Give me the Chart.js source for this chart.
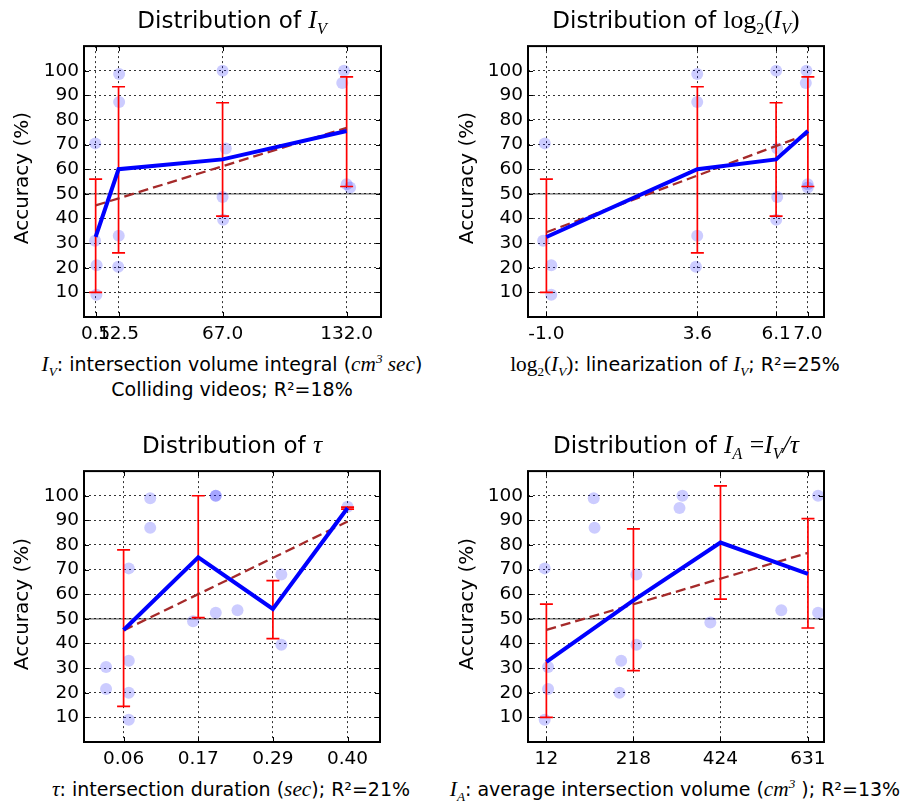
<!DOCTYPE html>
<html><head><meta charset="utf-8">
<script src="https://cdn.jsdelivr.net/npm/chart.js@4/dist/chart.umd.min.js"></script>
<style>
html,body{margin:0;padding:0;background:#fff;}
#wrap{position:relative;width:919px;height:802px;overflow:hidden;font-family:'DejaVu Sans',sans-serif;color:#000;}
canvas{position:absolute;}
.t{position:absolute;white-space:nowrap;transform:translate(-50%,-50%);line-height:1.2;}
.title{font-size:23px;}
.xl{font-size:19px;}
.yl{font-size:20px;transform:translate(-50%,-50%) rotate(-90deg);}
.m{font-family:'Liberation Serif','DejaVu Serif',serif;font-style:italic;font-size:1.12em;}
.r{font-family:'Liberation Serif','DejaVu Serif',serif;font-style:normal;font-size:1.12em;}
sub,sup{font-size:0.62em;line-height:0;}
</style></head><body><div id="wrap">
<canvas id="c1" width="395" height="320" style="left:0px;top:30px"></canvas>
<canvas id="c2" width="395" height="320" style="left:445px;top:30px"></canvas>
<canvas id="c3" width="395" height="320" style="left:0px;top:455px"></canvas>
<canvas id="c4" width="395" height="320" style="left:445px;top:455px"></canvas>

<div class="t title" style="left:232px;top:20px">Distribution of <span class="m">I<sub>V</sub></span></div>
<div class="t title" style="left:676px;top:20px">Distribution of <span class="r">log<sub>2</sub>(</span><span class="m">I<sub>V</sub></span><span class="r">)</span></div>
<div class="t title" style="left:232px;top:445px">Distribution of <span class="m">τ</span></div>
<div class="t title" style="left:676px;top:445px">Distribution of <span class="m">I<sub>A</sub></span> <span class="r">=</span><span class="m">I<sub>V</sub>/τ</span></div>

<div class="t xl" style="left:232px;top:365px"><span class="m">I<sub>V</sub></span>: intersection volume integral (<span class="m">cm<sup>3</sup> sec</span>)</div>
<div class="t xl" style="left:232px;top:389px">Colliding videos; R²=18%</div>
<div class="t xl" style="left:675px;top:365px"><span class="r">log<sub>2</sub>(</span><span class="m">I<sub>V</sub></span><span class="r">)</span>: linearization of <span class="m">I<sub>V</sub></span>; R²=25%</div>
<div class="t xl" style="left:231px;top:790px"><span class="m">τ</span>: intersection duration (<span class="m">sec</span>); R²=21%</div>
<div class="t xl" style="left:675px;top:790px"><span class="m">I<sub>A</sub></span>: average intersection volume (<span class="m">cm<sup>3</sup></span> ); R²=13%</div>

<div class="t yl" style="left:21px;top:178px">Accuracy (%)</div>
<div class="t yl" style="left:466px;top:178px">Accuracy (%)</div>
<div class="t yl" style="left:21px;top:604px">Accuracy (%)</div>
<div class="t yl" style="left:466px;top:604px">Accuracy (%)</div>
</div>
<script>
// ---------- shared ----------
const Y_TICKS = [10, 20, 30, 40, 50, 60, 70, 80, 90, 100];
const CHANCE = 50;

// ---------- Panel 1: I_V ----------
const IV_TICKS = [0.5, 12.5, 67.0, 132.0];
const IV_TICK_LABELS = ['0.5', '12.5', '67.0', '132.0'];
const IV_MEAN = [32.5, 60, 64, 75.5];
const IV_ERR_LO = [10, 26, 41, 53];
const IV_ERR_HI = [56, 93.5, 87, 97.5];
const IV_FIT_X = [0.5, 132];
const IV_FIT_Y = [45.3, 76.8];
const IV_PTS_X = [0.3, 0.2, 1.0, 0.9, 12.8, 12.8, 12.6, 12.3, 67, 68.7, 67, 67.3, 130.6, 129.7, 132, 133.8];
const IV_PTS_Y = [70.5, 31, 21, 9, 98.7, 87.3, 33, 20.4, 100, 68.4, 48.7, 39.5, 100, 95, 53.9, 52.6];

// ---------- Panel 2: log2(I_V) ----------
const LOG_TICKS = [-1.0, 3.644, 6.066, 7.044];
const LOG_TICK_LABELS = ['-1.0', '3.6', '6.1', '7.0'];
const LOG_MEAN = [32.5, 60, 64, 75.5];
const LOG_ERR_LO = [10, 26, 41, 53];
const LOG_ERR_HI = [56, 93.5, 87, 97.5];
const LOG_FIT_X = [-1.0, 7.044];
const LOG_FIT_Y = [34.4, 74.3];
const LOG_PTS_X = [-1.05, -1.1, -0.85, -0.85, 3.64, 3.64, 3.64, 3.6, 6.07, 6.1, 6.1, 6.07, 7.0, 6.98, 7.04, 7.04];
const LOG_PTS_Y = [70.5, 31, 21, 9, 98.7, 87.3, 33, 20.4, 100, 68.4, 48.7, 39.5, 100, 95, 53.9, 52.6];

// ---------- Panel 3: tau ----------
const TAU_TICKS = [0.057, 0.172, 0.287, 0.402];
const TAU_TICK_LABELS = ['0.06', '0.17', '0.29', '0.40'];
const TAU_MEAN = [45.5, 75, 54, 95];
const TAU_ERR_LO = [14.5, 50.5, 42, 94.6];
const TAU_ERR_HI = [78, 100, 65.5, 95.4];
const TAU_FIT_X = [0.057, 0.402];
const TAU_FIT_Y = [45.3, 89.5];
const TAU_PTS_X = [0.030, 0.030, 0.065, 0.065, 0.065, 0.065, 0.098, 0.098, 0.164, 0.199, 0.199, 0.199, 0.2325, 0.300, 0.300, 0.402];
const TAU_PTS_Y = [30.5, 21.5, 70.5, 33, 20, 9, 99, 87, 49, 100, 100, 52.5, 53.5, 68, 39.5, 95.5];

// ---------- Panel 4: I_A ----------
const IA_TICKS = [12, 218, 424, 631];
const IA_TICK_LABELS = ['12', '218', '424', '631'];
const IA_MEAN = [32.5, 57.5, 81, 68.3];
const IA_ERR_LO = [10, 29, 58, 46.3];
const IA_ERR_HI = [56, 86.5, 104, 90.7];
const IA_FIT_X = [12, 631];
const IA_FIT_Y = [45.5, 76.8];
const IA_PTS_X = [8, 8, 16, 16, 124, 126, 185, 189, 225, 225, 327, 334, 400, 568, 655, 655];
const IA_PTS_Y = [70.5, 9, 30.5, 21.5, 99, 87, 20, 33, 68, 39.5, 95, 100, 48.5, 53.5, 100, 52.5];

function decoPlugin(cfg) {
  return {
    id: 'deco',
    beforeDatasetsDraw(chart) {
      const {ctx, chartArea: a, scales: {y}} = chart;
      const py = y.getPixelForValue(CHANCE);
      ctx.save();
      ctx.strokeStyle = 'rgba(0,0,0,0.42)';
      ctx.lineWidth = 1.6;
      ctx.beginPath(); ctx.moveTo(a.left, py); ctx.lineTo(a.right, py); ctx.stroke();
      ctx.restore();
    },
    afterDatasetDraw(chart, args) {
      if (chart.data.datasets[args.index].label !== 'points') return;
      const {ctx, scales: {x, y}} = chart;
      ctx.save();
      ctx.strokeStyle = '#ff0000';
      ctx.lineWidth = 1.7;
      cfg.ticks.forEach((xv, i) => {
        const px = x.getPixelForValue(xv);
        const lo = y.getPixelForValue(cfg.errLo[i]);
        const hi = y.getPixelForValue(cfg.errHi[i]);
        ctx.beginPath();
        ctx.moveTo(px, lo); ctx.lineTo(px, hi);
        ctx.moveTo(px - 6.5, lo); ctx.lineTo(px + 6.5, lo);
        ctx.moveTo(px - 6.5, hi); ctx.lineTo(px + 6.5, hi);
        ctx.stroke();
      });
      ctx.restore();
    },
    afterDraw(chart) {
      const {ctx, chartArea: a, scales: {x, y}} = chart;
      ctx.save();
      ctx.strokeStyle = '#000';
      ctx.lineWidth = 1;
      ctx.beginPath();
      cfg.ticks.forEach(v => {
        const px = Math.round(x.getPixelForValue(v)) + 0.5;
        ctx.moveTo(px, a.top); ctx.lineTo(px, a.top + 5);
        ctx.moveTo(px, a.bottom); ctx.lineTo(px, a.bottom - 5);
      });
      Y_TICKS.forEach(v => {
        const py = Math.round(y.getPixelForValue(v)) + 0.5;
        ctx.moveTo(a.left, py); ctx.lineTo(a.left + 5, py);
        ctx.moveTo(a.right, py); ctx.lineTo(a.right - 5, py);
      });
      ctx.stroke();
      ctx.lineWidth = 2;
      ctx.strokeRect(a.left, a.top, a.right - a.left, a.bottom - a.top);
      ctx.restore();
    }
  };
}

function makePanel(id, cfg) {
  new Chart(document.getElementById(id), {
    data: {
      datasets: [
        {type: 'line', label: 'mean', data: cfg.ticks.map((x, i) => ({x, y: cfg.mean[i]})),
         borderColor: '#0000ff', borderWidth: 4, pointRadius: 0, tension: 0, order: 0, fill: false},
        {type: 'line', label: 'fit', data: cfg.fitX.map((x, i) => ({x, y: cfg.fitY[i]})),
         borderColor: '#a52a2a', borderWidth: 2.3, borderDash: [10, 5], pointRadius: 0, order: 1, fill: false},
        {type: 'scatter', label: 'points', data: cfg.ptsX.map((x, i) => ({x, y: cfg.ptsY[i]})),
         backgroundColor: 'rgba(0,0,255,0.2)', borderWidth: 0, pointRadius: 6, order: 3}
      ]
    },
    options: {
      responsive: false, animation: false, devicePixelRatio: 1,
      layout: {padding: {top: cfg.padTop, right: cfg.padRight, left: 0, bottom: 0}},
      plugins: {legend: {display: false}, tooltip: {enabled: false}, title: {display: false}},
      scales: {
        x: {
          type: 'linear', min: cfg.xMin, max: cfg.xMax,
          afterBuildTicks: s => { s.ticks = cfg.ticks.map(v => ({value: v})); },
          afterFit: s => { s.height = 33; },
          ticks: {autoSkip: false, maxRotation: 0, minRotation: 0, padding: 6, color: '#000',
                  font: {family: 'DejaVu Sans', size: 18.5}, callback: (v, i) => cfg.tickLabels[i]},
          grid: {drawTicks: false, color: '#333', lineWidth: 1},
          border: {display: false, dash: [2, 3]}
        },
        y: {
          type: 'linear', min: 0, max: 110,
          afterBuildTicks: s => { s.ticks = Y_TICKS.map(v => ({value: v})); },
          afterFit: s => { s.width = cfg.yWidth; },
          ticks: {padding: 5, color: '#000', font: {family: 'DejaVu Sans', size: 18.5}},
          grid: {drawTicks: false, color: '#333', lineWidth: 1},
          border: {display: false, dash: [2, 3]}
        }
      }
    },
    plugins: [decoPlugin(cfg)]
  });
}

makePanel('c1', {ticks: IV_TICKS, tickLabels: IV_TICK_LABELS, xMin: -5.6, xMax: 150,
  mean: IV_MEAN, errLo: IV_ERR_LO, errHi: IV_ERR_HI, fitX: IV_FIT_X, fitY: IV_FIT_Y,
  ptsX: IV_PTS_X, ptsY: IV_PTS_Y, yWidth: 84, padTop: 10, padRight: 14});
makePanel('c2', {ticks: LOG_TICKS, tickLabels: LOG_TICK_LABELS, xMin: -1.566, xMax: 7.54,
  mean: LOG_MEAN, errLo: LOG_ERR_LO, errHi: LOG_ERR_HI, fitX: LOG_FIT_X, fitY: LOG_FIT_Y,
  ptsX: LOG_PTS_X, ptsY: LOG_PTS_Y, yWidth: 83, padTop: 10, padRight: 16});
makePanel('c3', {ticks: TAU_TICKS, tickLabels: TAU_TICK_LABELS, xMin: -0.004, xMax: 0.452,
  mean: TAU_MEAN, errLo: TAU_ERR_LO, errHi: TAU_ERR_HI, fitX: TAU_FIT_X, fitY: TAU_FIT_Y,
  ptsX: TAU_PTS_X, ptsY: TAU_PTS_Y, yWidth: 84, padTop: 11, padRight: 15});
makePanel('c4', {ticks: IA_TICKS, tickLabels: IA_TICK_LABELS, xMin: -31.5, xMax: 669,
  mean: IA_MEAN, errLo: IA_ERR_LO, errHi: IA_ERR_HI, fitX: IA_FIT_X, fitY: IA_FIT_Y,
  ptsX: IA_PTS_X, ptsY: IA_PTS_Y, yWidth: 83, padTop: 11, padRight: 16});
</script>
</body></html>
